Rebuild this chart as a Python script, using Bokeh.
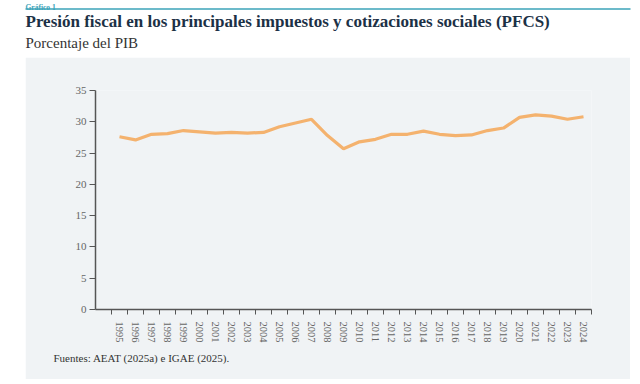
from math import pi
from bokeh.plotting import figure
from bokeh.layouts import column, row
from bokeh.models import Range1d, FixedTicker, Label, Title, Spacer
from bokeh.embed import file_html
from bokeh.resources import INLINE

years = list(range(1995, 2025))
values = [27.6, 27.1, 28.0, 28.1, 28.6, 28.4, 28.2, 28.3, 28.2, 28.3,
          29.2, 29.8, 30.4, 27.8, 25.7, 26.8, 27.2, 28.0, 28.0, 28.5,
          28.0, 27.8, 27.9, 28.6, 29.0, 30.7, 31.1, 30.9, 30.4, 30.8]
y_ticks = [0, 5, 10, 15, 20, 25, 30, 35]

kicker_text = "Gráfico 1"
title_text = "Presión fiscal en los principales impuestos y cotizaciones sociales (PFCS)"
subtitle_text = "Porcentaje del PIB"
source_text = "Fuentes: AEAT (2025a) e IGAE (2025)."

SERIF = "Liberation Serif"

# Header
h = figure(width=632, height=57, x_range=Range1d(0, 632), y_range=Range1d(57, 0),
           output_backend="svg", toolbar_location=None, min_border=0,
           outline_line_color=None, background_fill_color="white", border_fill_color="white")
h.axis.visible = False
h.grid.visible = False
h.segment(x0=[25], y0=[8.5], x1=[630], y1=[8.5], line_color="#3ba3b8", line_width=1.5)
h.add_layout(Label(x=25, y=7.3, text=kicker_text, text_font=SERIF, text_font_style="bold",
                   text_font_size="7.5px", text_color="#3ba3b8", text_baseline="alphabetic"))
h.add_layout(Label(x=25, y=20.5, text=title_text, text_font=SERIF, text_font_style="bold",
                   text_font_size="17px", text_color="#1c3146", text_baseline="middle"))
h.add_layout(Label(x=25, y=42, text=subtitle_text, text_font=SERIF,
                   text_font_size="15px", text_color="#333333", text_baseline="middle"))

# Panel
p = figure(width=605, height=322, x_range=Range1d(1993.5, 2024.5), y_range=Range1d(0, 35),
           output_backend="svg", toolbar_location=None,
           background_fill_color="#f0f3f5", border_fill_color="#f0f3f5",
           outline_line_color=None, min_border_left=70, min_border_right=39,
           min_border_top=33, min_border_bottom=70)
p.grid.visible = False
p.line(years, values, line_color="#f4b26e", line_width=3.2)

xa = p.xaxis[0]
xa.ticker = FixedTicker(ticks=years, minor_ticks=[y + 0.5 for y in range(1994, 2025)])
xa.major_tick_line_color = None
xa.minor_tick_out = 5
xa.minor_tick_in = 0
xa.minor_tick_line_color = "#555555"
xa.axis_line_color = "#555555"
xa.axis_line_width = 1.5
xa.major_label_orientation = "vertical"
xa.major_label_standoff = 6
xa.major_label_text_font = SERIF
xa.major_label_text_font_size = "10.5px"
xa.major_label_text_color = "#666666"

ya = p.yaxis[0]
ya.ticker = FixedTicker(ticks=y_ticks)
ya.major_tick_out = 6
ya.major_tick_in = 0
ya.major_tick_line_color = "#555555"
ya.axis_line_color = "#555555"
ya.axis_line_width = 1.5
ya.major_label_standoff = 3
ya.major_label_text_font = SERIF
ya.major_label_text_font_size = "11px"
ya.major_label_text_color = "#666666"

p.add_layout(Title(text=source_text, align="left", offset=-42, standoff=8,
                   text_font=SERIF, text_font_style="normal", text_font_size="11px",
                   text_color="#333333"), "below")

layout = column(h, row(Spacer(width=25), p), spacing=0)
open("out.html", "w").write(file_html(layout, INLINE))
